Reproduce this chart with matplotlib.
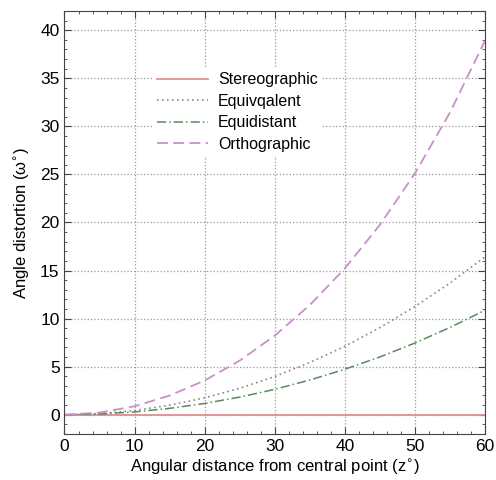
import matplotlib.pyplot as plt
from matplotlib.ticker import MultipleLocator

plt.rcParams['font.family'] = ['Liberation Sans', 'DejaVu Sans']

z = [0, 5, 10, 15, 20, 25, 30, 35, 40, 45, 50, 55, 60]
stereographic = [0, 0, 0, 0, 0, 0, 0, 0, 0, 0, 0, 0, 0]
equivalent = [0, 0.11, 0.44, 0.99, 1.75, 2.75, 3.97, 5.43, 7.12, 9.06, 11.26, 13.70, 16.43]
equidistant = [0, 0.07, 0.29, 0.66, 1.17, 1.83, 2.64, 3.61, 4.73, 6.01, 7.46, 9.08, 10.87]
orthographic = [0, 0.22, 0.88, 1.99, 3.56, 5.63, 8.23, 11.41, 15.23, 19.76, 25.12, 31.45, 38.94]

fig, ax = plt.subplots(figsize=(4.96, 4.8), dpi=100)
fig.subplots_adjust(left=0.13, right=0.978, top=0.977, bottom=0.096)

ax.plot(z, stereographic, color='#e09090', lw=1.3, ls='-', label='Stereographic')
ax.plot(z, equivalent, color='#8a8a8a', lw=1.2, ls=(0, (1, 2)), label='Equivqalent')
ax.plot(z, equidistant, color='#5a8a5a', lw=1.1, ls=(0, (6, 2, 1, 2)), label='Equidistant')
ax.plot(z, orthographic, color='#c890c8', lw=1.3, ls=(0, (6, 3)), label='Orthographic')

ax.set_xlim(0, 60)
ax.set_ylim(-2, 42)
ax.xaxis.set_major_locator(MultipleLocator(10))
ax.xaxis.set_minor_locator(MultipleLocator(2))
ax.yaxis.set_major_locator(MultipleLocator(5))
ax.yaxis.set_minor_locator(MultipleLocator(1))
ax.tick_params(which='both', direction='in', top=True, right=True, labelsize=12.5, color='#444444')
ax.tick_params(which='major', length=5)
ax.tick_params(which='minor', length=2.5)
ax.grid(True, which='major', ls=':', color='#999999', lw=0.9)
for s in ax.spines.values():
    s.set_color('#444444')

ax.set_xlabel('Angular distance from central point (z$^{\\circ}$)', fontsize=12, labelpad=2)
ax.set_ylabel('Angle distortion (\u03c9$^{\\circ}$)', fontsize=12, labelpad=6)

leg = ax.legend(loc='upper left', bbox_to_anchor=(0.19, 0.885), frameon=True, fontsize=11.5,
                handlelength=3.2, handletextpad=0.6, labelspacing=0.4, borderpad=0.3)
leg.get_frame().set_edgecolor('none')
leg.get_frame().set_facecolor('white')
leg.get_frame().set_alpha(1)

fig.savefig('out.png', dpi=100)
plt.close()
